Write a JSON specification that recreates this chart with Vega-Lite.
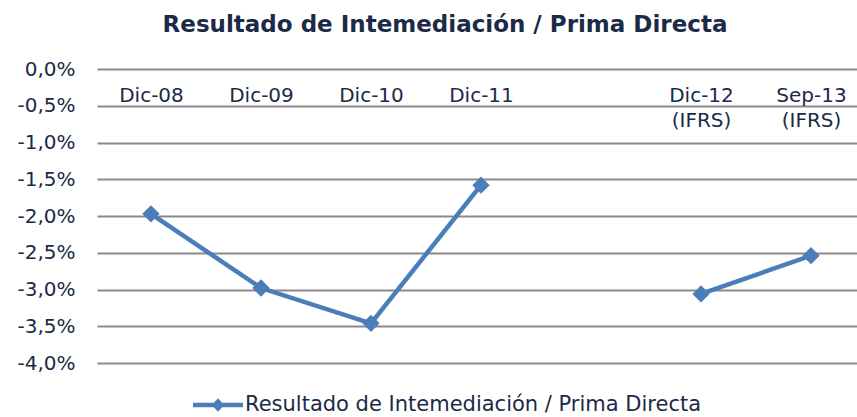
{
  "$schema": "https://vega.github.io/schema/vega-lite/v6.json",
  "autosize": {"type": "none"},
  "padding": {"left": 97, "top": 69, "right": 0, "bottom": 54},
  "width": 760,
  "height": 294,
  "background": "white",
  "title": {
    "text": "Resultado de Intemediación / Prima Directa",
    "font": "DejaVu Sans",
    "fontSize": 23,
    "fontWeight": "bold",
    "color": "#1b2a47",
    "anchor": "middle",
    "frame": "group",
    "dx": -32,
    "offset": 22
  },
  "data": {
    "values": [
      {"periodo": "Dic-08", "valor": -0.0197, "tramo": "A", "serie": "Resultado de Intemediación / Prima Directa"},
      {"periodo": "Dic-09", "valor": -0.0298, "tramo": "A", "serie": "Resultado de Intemediación / Prima Directa"},
      {"periodo": "Dic-10", "valor": -0.0346, "tramo": "A", "serie": "Resultado de Intemediación / Prima Directa"},
      {"periodo": "Dic-11", "valor": -0.0158, "tramo": "A", "serie": "Resultado de Intemediación / Prima Directa"},
      {"periodo": "Dic-12|(IFRS)", "valor": -0.0306, "tramo": "B", "serie": "Resultado de Intemediación / Prima Directa"},
      {"periodo": "Sep-13|(IFRS)", "valor": -0.0254, "tramo": "B", "serie": "Resultado de Intemediación / Prima Directa"}
    ]
  },
  "encoding": {
    "x": {
      "field": "periodo",
      "type": "ordinal",
      "scale": {
        "type": "point",
        "domain": ["Dic-08", "Dic-09", "Dic-10", "Dic-11", " ", "Dic-12|(IFRS)", "Sep-13|(IFRS)"],
        "padding": 0.4545,
        "align": 0.54
      },
      "axis": {
        "orient": "bottom",
        "offset": -294,
        "title": null,
        "domain": false,
        "ticks": false,
        "tickSize": 0,
        "grid": false,
        "labelAngle": 0,
        "labelBaseline": "top",
        "labelPadding": 16,
        "labelLineHeight": 25,
        "labelFont": "DejaVu Sans",
        "labelFontSize": 20,
        "labelColor": "#1b2a47",
        "labelExpr": "split(datum.label, '|')"
      }
    },
    "y": {
      "field": "valor",
      "type": "quantitative",
      "scale": {"domain": [-0.04, 0], "nice": false, "zero": false},
      "axis": {
        "title": null,
        "values": [0, -0.005, -0.01, -0.015, -0.02, -0.025, -0.03, -0.035, -0.04],
        "labelExpr": "replace(replace(format(datum.value, '.1%'), '.', ','), '\u2212', '-')",
        "domain": false,
        "ticks": false,
        "labelPadding": 22,
        "labelFont": "DejaVu Sans",
        "labelFontSize": 20,
        "labelColor": "#1b2a47",
        "grid": true,
        "gridColor": "#8a8a8a",
        "gridWidth": 2,
        "gridOpacity": 1
      }
    },
    "color": {
      "field": "serie",
      "type": "nominal",
      "scale": {"range": ["#4a7ebb"]},
      "legend": {
        "title": null,
        "orient": "none",
        "legendX": 96,
        "legendY": 311,
        "labelFont": "DejaVu Sans",
        "labelFontSize": 21,
        "labelColor": "#1b2a47",
        "labelLimit": 0,
        "symbolType": "M-1,-0.09 L1,-0.09 L1,0.09 L-1,0.09 Z M-0.25,0 L0,-0.27 L0.25,0 L0,0.27 Z",
        "symbolSize": 2500,
        "symbolFillColor": "#4a7ebb",
        "symbolStrokeWidth": 0,
        "labelOffset": 2
      }
    }
  },
  "layer": [
    {
      "mark": {"type": "line", "strokeWidth": 4.5},
      "encoding": {"detail": {"field": "tramo", "type": "nominal"}}
    },
    {
      "mark": {"type": "point", "shape": "diamond", "filled": true, "size": 300, "opacity": 1}
    }
  ],
  "config": {"view": {"stroke": null}}
}
